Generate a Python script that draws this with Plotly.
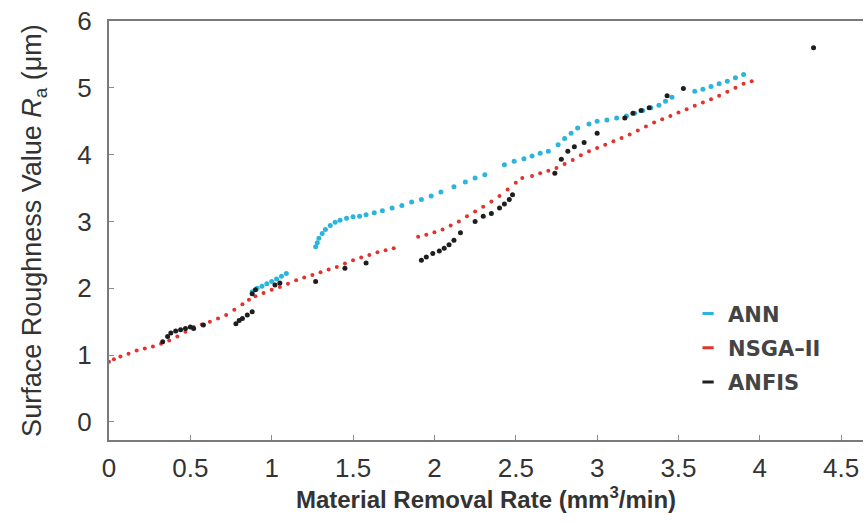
import plotly.graph_objects as go

# ANN (cyan)
ann_x = [0.88, 0.91, 0.94, 0.97, 1.00, 1.03, 1.06, 1.09,
         1.27, 1.28, 1.29, 1.31, 1.33, 1.36, 1.39, 1.42, 1.46, 1.50, 1.54, 1.58, 1.63, 1.68,
         1.74, 1.80, 1.86, 1.92, 1.98, 2.04, 2.12, 2.19, 2.25, 2.31,
         2.43, 2.49, 2.55, 2.60, 2.65, 2.70, 2.76, 2.80, 2.84, 2.88, 2.95, 3.00, 3.06, 3.12,
         3.18, 3.23, 3.28, 3.33, 3.38, 3.42, 3.46, 3.60, 3.65, 3.70, 3.75, 3.80, 3.85, 3.90]
ann_y = [1.95, 2.00, 2.03, 2.07, 2.10, 2.14, 2.18, 2.22,
         2.62, 2.68, 2.75, 2.82, 2.88, 2.94, 2.99, 3.02, 3.05, 3.07, 3.08, 3.10, 3.13, 3.16,
         3.20, 3.24, 3.29, 3.33, 3.38, 3.44, 3.52, 3.59, 3.65, 3.70,
         3.85, 3.90, 3.94, 3.98, 4.02, 4.05, 4.15, 4.24, 4.32, 4.40, 4.46, 4.50, 4.52, 4.55,
         4.58, 4.62, 4.66, 4.70, 4.74, 4.80, 4.86, 4.95, 4.98, 5.02, 5.06, 5.10, 5.15, 5.20]

# NSGA-II (red)
nsga_x = [0.00, 0.03, 0.07, 0.12, 0.17, 0.22, 0.27, 0.32, 0.37, 0.42, 0.47, 0.52, 0.57, 0.62,
          0.67, 0.72, 0.77, 0.82, 0.86, 0.90, 0.95, 1.00, 1.05, 1.10, 1.15, 1.20, 1.25, 1.30,
          1.35, 1.40, 1.45, 1.50, 1.55, 1.60, 1.65, 1.70, 1.75,
          1.90, 1.95, 2.00, 2.05, 2.10, 2.15, 2.20, 2.25, 2.30, 2.35, 2.40, 2.45, 2.50, 2.54,
          2.60, 2.65, 2.70, 2.75, 2.80, 2.85, 2.90, 2.95, 3.00, 3.05, 3.10, 3.15, 3.20, 3.25,
          3.30, 3.35, 3.40, 3.45, 3.50, 3.55, 3.60, 3.65, 3.70, 3.75, 3.80, 3.85, 3.90, 3.95]
nsga_y = [0.90, 0.94, 0.98, 1.02, 1.07, 1.10, 1.13, 1.17, 1.22, 1.28, 1.35, 1.42, 1.46, 1.50,
          1.55, 1.60, 1.68, 1.76, 1.83, 1.88, 1.93, 1.98, 2.02, 2.07, 2.12, 2.16, 2.20, 2.24,
          2.28, 2.32, 2.37, 2.42, 2.46, 2.50, 2.54, 2.57, 2.60,
          2.77, 2.80, 2.84, 2.88, 2.94, 3.00, 3.08, 3.15, 3.22, 3.30, 3.38, 3.48, 3.58, 3.65,
          3.68, 3.72, 3.76, 3.80, 3.86, 3.92, 3.99, 4.05, 4.10, 4.15, 4.20, 4.25, 4.30, 4.36,
          4.42, 4.48, 4.53, 4.58, 4.63, 4.68, 4.73, 4.78, 4.83, 4.88, 4.94, 5.00, 5.06, 5.10]

# ANFIS (black)
anfis_x = [0.33, 0.36, 0.38, 0.41, 0.44, 0.47, 0.50, 0.52, 0.58,
           0.78, 0.80, 0.82, 0.85, 0.88, 0.88, 0.90, 1.02, 1.05,
           1.27, 1.45, 1.58,
           1.92, 1.95, 1.99, 2.03, 2.06, 2.09, 2.12, 2.16, 2.25, 2.30, 2.35, 2.40, 2.43, 2.46, 2.48,
           2.74, 2.78, 2.82, 2.86, 2.92, 3.00, 3.17, 3.22, 3.27, 3.32, 3.43, 3.53, 4.33]
anfis_y = [1.20, 1.28, 1.33, 1.36, 1.38, 1.40, 1.42, 1.40, 1.45,
           1.47, 1.52, 1.55, 1.60, 1.65, 1.92, 1.98, 2.05, 2.08,
           2.10, 2.30, 2.38,
           2.42, 2.47, 2.52, 2.56, 2.60, 2.65, 2.72, 2.83, 3.00, 3.08, 3.12, 3.20, 3.26, 3.33, 3.40,
           3.72, 3.93, 4.05, 4.12, 4.18, 4.32, 4.55, 4.62, 4.66, 4.70, 4.88, 4.99, 5.60]

series_names = ["ANN", "NSGA–II", "ANFIS"]
series_colors = ["#2bb4dc", "#e2322e", "#1e1e1e"]

x_ticks = [0, 0.5, 1, 1.5, 2, 2.5, 3, 3.5, 4, 4.5]
x_tick_text = ["0", "0.5", "1", "1.5", "2", "2.5", "3", "3.5", "4", "4.5"]
y_ticks = [0, 1, 2, 3, 4, 5, 6]

FONT = "Liberation Sans, Arial, sans-serif"

fig = go.Figure()
data = [(ann_x, ann_y, 5), (nsga_x, nsga_y, 4), (anfis_x, anfis_y, 5)]
for (xs, ys, sz), name, col in zip(data, series_names, series_colors):
    fig.add_trace(go.Scatter(x=xs, y=ys, mode="markers", name=name, showlegend=False,
                             marker=dict(color=col, size=sz)))
# legend entries (short dash symbols like the reference)
for i, (name, col) in enumerate(zip(series_names, series_colors)):
    fig.add_trace(go.Scatter(x=[None], y=[None], mode="markers", name=name,
                             legendgroup=f"g{i}", showlegend=True,
                             marker=dict(symbol="line-ew", size=8, color=col,
                                         line=dict(color=col, width=3))))

axis_common = dict(showline=True, linecolor="#7a7a7a", linewidth=2,
                   ticks="inside", ticklen=5, tickcolor="#8a8a8a", showgrid=False,
                   zeroline=False, automargin=False,
                   tickfont=dict(family=FONT, size=26, color="#333333"))

fig.update_layout(
    width=865, height=524,
    margin=dict(l=109, r=2, t=21, b=84),
    paper_bgcolor="white", plot_bgcolor="white",
    xaxis=dict(range=[0, 4.634], tickvals=x_ticks, ticktext=x_tick_text, mirror=True,
               ticklabelstandoff=4,
               title=dict(text="<b>Material Removal Rate (mm<sup>3</sup>/min)</b>",
                          font=dict(family=FONT, size=24, color="#333333"), standoff=6),
               **axis_common),
    yaxis=dict(range=[-0.27, 6], tickvals=y_ticks, mirror=False,
               ticklabelstandoff=10,
               title=dict(text="Surface Roughness Value <i>R</i><sub>a</sub> (μm)",
                          font=dict(family=FONT, size=27, color="#333333"), standoff=28),
               **axis_common),
    legend=dict(x=0.768, y=0.35, xanchor="left", yanchor="top",
                font=dict(family="DejaVu Sans, sans-serif", size=21, color="#444444", weight="bold"),
                bgcolor="rgba(255,255,255,0)", tracegroupgap=4, traceorder="grouped"),
    showlegend=True,
)

fig.write_html("out.html", config={"displayModeBar": False},
               post_script="document.body.style.margin='0';document.body.style.overflow='hidden';")
